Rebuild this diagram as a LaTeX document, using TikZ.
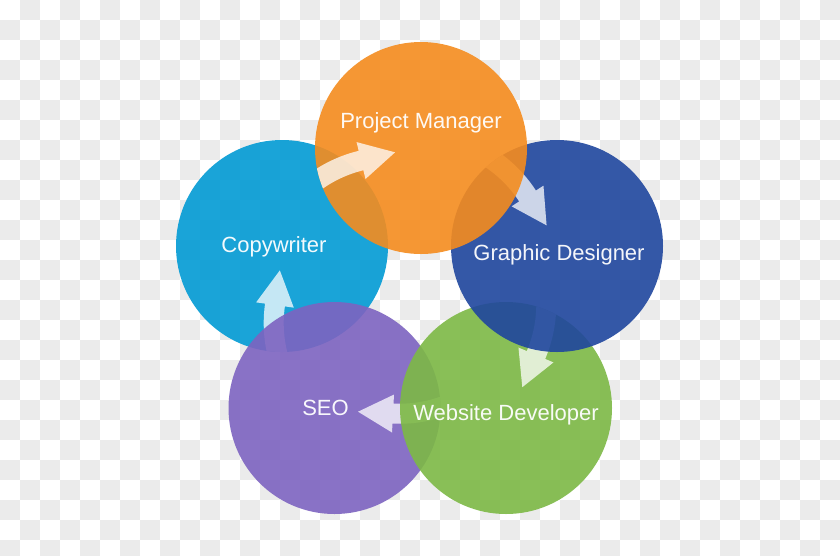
\documentclass[tikz,border=0pt]{standalone}
\usepackage{fontspec}
\setmainfont{Liberation Sans}
\definecolor{checkgray}{RGB}{235,235,235}
\definecolor{cOrange}{RGB}{245,140,30}
\definecolor{cBlue}{RGB}{31,70,158}
\definecolor{cCyan}{RGB}{2,155,212}
\definecolor{cPurple}{RGB}{125,99,192}
\definecolor{cGreen}{RGB}{125,185,69}
\def\arW{10}
\def\arH{19}
\def\arL{35}
% #1 target node, #2 ox, #3 oy, #4 radius, #5 tail angle, #6 head-base angle
\newcommand\fatarrow[6]{%
\begin{scope}
\clip (#1.center) circle[radius=106];
\fill[arrowfill] plot[domain=#5:#6,samples=40] ({#2+(#4+\arW)*cos(\x)},{#3+(#4+\arW)*sin(\x)})
 -- ({#2+(#4+\arH)*cos(#6)},{#3+(#4+\arH)*sin(#6)})
 -- ({#2+#4*cos(#6)+\arL*cos(#6+90)},{#3+#4*sin(#6)+\arL*sin(#6+90)})
 -- ({#2+(#4-\arH)*cos(#6)},{#3+(#4-\arH)*sin(#6)})
 -- plot[domain=#6:#5,samples=40] ({#2+(#4-\arW)*cos(\x)},{#3+(#4-\arW)*sin(\x)})
 -- cycle;
\end{scope}}
\begin{document}
\begin{tikzpicture}[x=1pt,y=-1pt,
  bubble/.style={circle, minimum size=212pt, inner sep=0pt, fill opacity=0.9, draw=none},
  lbl/.style={text=white, text opacity=0.95, font=\fontsize{22}{26}\selectfont, anchor=base, inner sep=0pt},
  arrowfill/.style={fill=white, fill opacity=0.75}]
\useasboundingbox (0,0) rectangle (840,555);
% checkerboard background
\fill[white] (0,0) rectangle (840,555);
\foreach \i in {0,...,41}{
  \foreach \j in {0,...,27}{
    \pgfmathtruncatemacro\chk{mod(\i+\j,2)}
    \ifnum\chk=1 \fill[checkgray] (20*\i,20*\j) rectangle ++(20,20); \fi
  }
}
% circles and arrows, in stacking order
\node[bubble, fill=cCyan] (cw) at (282,246) {};
\fatarrow{cw}{403.7}{323.1}{130}{150}{188}
\node[bubble, fill=cPurple] (seo) at (334.5,408) {};
\fatarrow{seo}{399.8}{283.7}{130}{55}{93}
\node[bubble, fill=cGreen] (wd) at (506,408) {};
\fatarrow{wd}{416.3}{304.2}{130}{-15}{23}
\node[bubble, fill=cBlue] (gd) at (557,246) {};
\fatarrow{gd}{418.5}{266.8}{130}{-70}{-33}
\node[bubble, fill=cOrange] (pm) at (421,148) {};
\fatarrow{pm}{391.6}{286.9}{130}{-140}{-103.6}
% labels
\node[lbl] (tpm) at (421,128) {Project Manager};
\node[lbl] (tgd) at (559,260.5) {Graphic Designer};
\node[lbl] (tcw) at (274,252.5) {Copywriter};
\node[lbl] (tseo) at (325.5,415.5) {SEO};
\node[lbl] (twd) at (506,420.5) {Website Developer};
\end{tikzpicture}
\end{document}
